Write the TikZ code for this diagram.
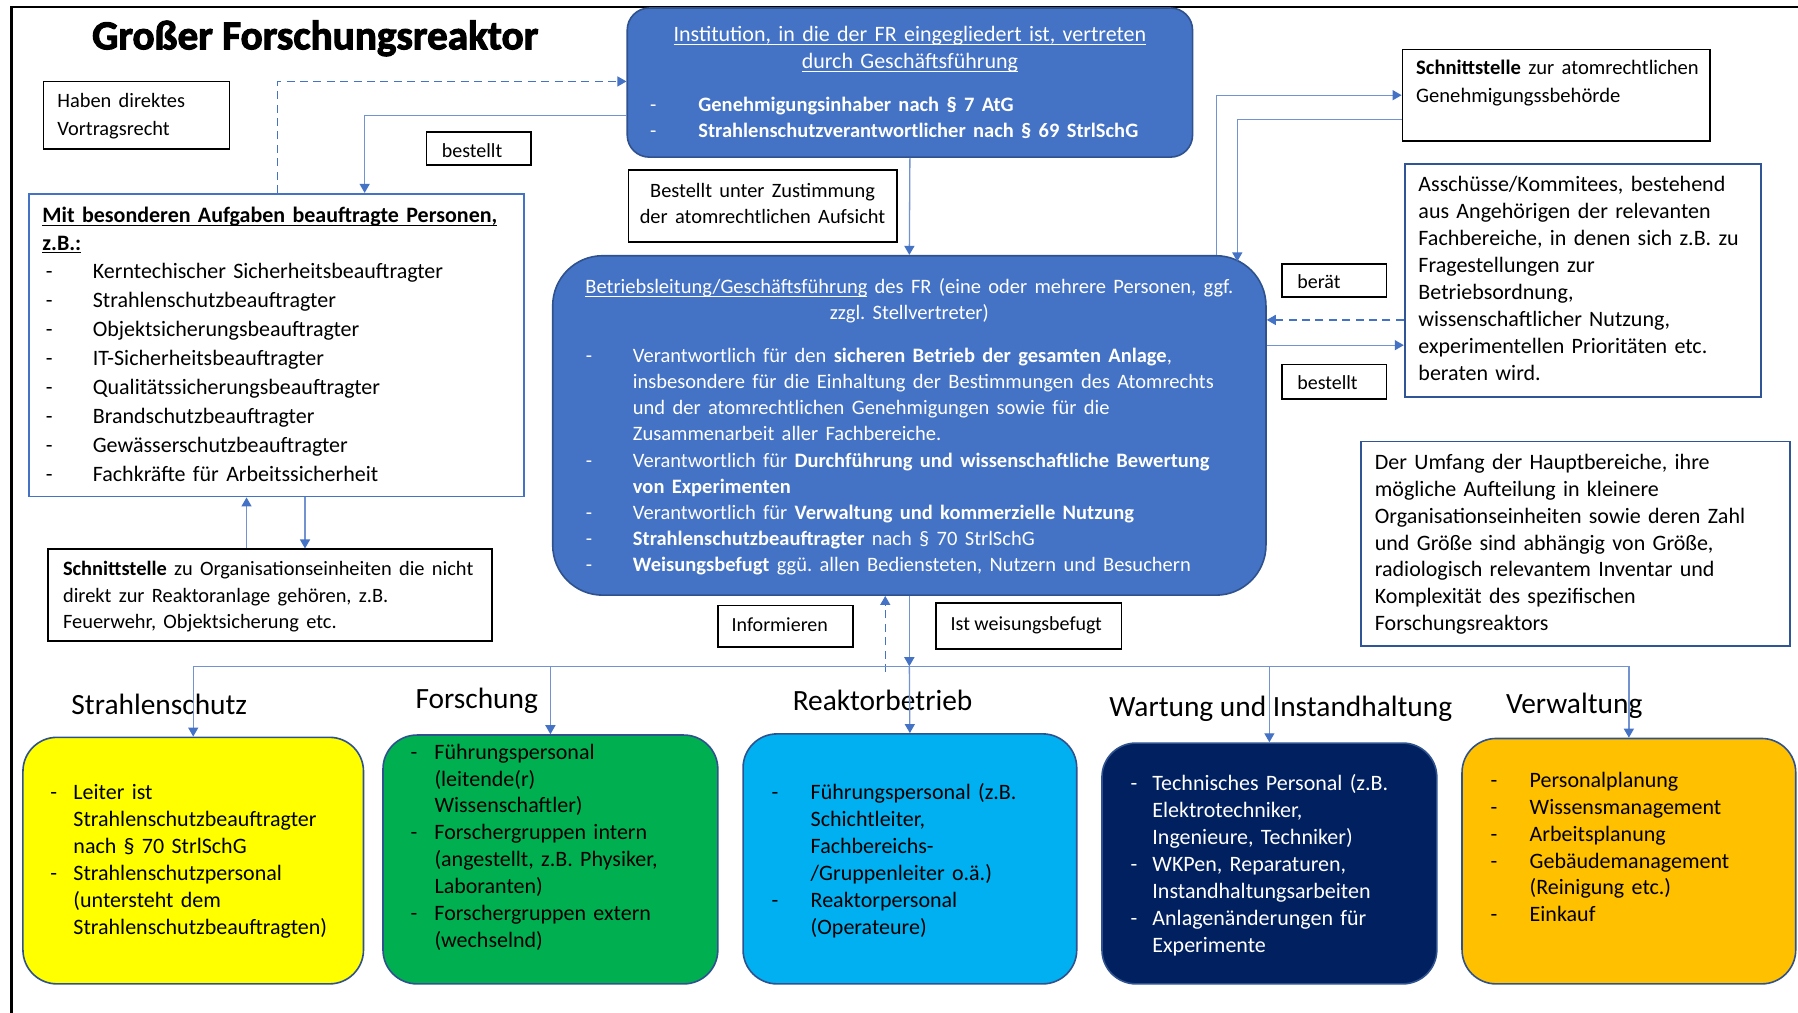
\documentclass[tikz,border=0pt]{standalone}
\usepackage{fontspec}
\setmainfont{Carlito}
\newfontfamily\titlefont{Carlito}[BoldFeatures={FakeBold=2.5}]
\usetikzlibrary{arrows.meta,fit}
\frenchspacing

\definecolor{acc}{HTML}{4472C4}
\definecolor{accd}{HTML}{2F528F}
\definecolor{bdr}{HTML}{2F5597}
\definecolor{lnk}{HTML}{7393D0}
\definecolor{cYel}{HTML}{FFFF00}
\definecolor{cGrn}{HTML}{00B050}
\definecolor{cSky}{HTML}{00B0F0}
\definecolor{cNavy}{HTML}{002060}
\definecolor{cOra}{HTML}{FFC000}

% body size with a given line distance
\newcommand\fs[1]{\fontsize{11}{#1}\selectfont}
\newcommand\fsm[2]{\fontsize{#1}{#2}\selectfont}
% list item: dash, then text with hanging indent
\newcommand\li[2]{\hangindent=#1\hangafter=1\noindent\makebox[#1][l]{-}#2\par}
% underline at a fixed depth below the baseline
\newcommand\uln[1]{\setbox0\hbox{#1}\leavevmode\rlap{\rule[-1.7pt]{\wd0}{0.5pt}}\box0\relax}

\tikzset{
  box/.style={draw=black,line width=0.8pt,inner sep=0pt},
  bbox/.style={draw=bdr,line width=0.9pt,inner sep=0pt},
  rbox/.style={draw=accd,line width=0.8pt,inner sep=0pt},
  txt/.style={anchor=base west,inner sep=0pt,outer sep=0pt,align=left,text width=#1,
    font=\fontsize{11}{13.5}\selectfont},
  txt/.default=330pt,
  ctxt/.style={anchor=base,inner sep=0pt,outer sep=0pt,align=center,text width=#1,
    font=\fontsize{11}{13.5}\selectfont},
  stxt/.style={anchor=base west,inner sep=0pt,font=\fontsize{10}{12}\selectfont},
  lbl/.style={anchor=base west,inner sep=0pt,font=\fontsize{14.7}{17}\selectfont},
  arr/.style={draw=lnk,line width=0.65pt,-{Triangle[length=4.5pt,width=5pt,color=acc]}},
  darr/.style={arr,draw=acc,dash pattern=on 4pt off 2.7pt},
}

\begin{document}
\begin{tikzpicture}[x=0.5734pt,y=-0.5734pt]
\fill[white] (0,0) rectangle (1568,883);
\useasboundingbox (0,0) rectangle (1568,883);

% outer frame (left and top edge)
\draw[line width=1.1pt] (10,883) -- (10,6) -- (1568,6);

% title
\node[anchor=base west,inner sep=0pt] (title) at (80,43)
  {\titlefont\bfseries\fontsize{20.6}{24}\selectfont Großer Forschungsreaktor};

% --- left column ---------------------------------------------------
\node[box,fit={(38,71) (200,130)}] (haben) {};
\node[txt] (habenT) at (50,94) {\fsm{10.2}{13.8}Haben direktes\\Vortragsrecht\par};

\node[box,fit={(372,115) (463,144)}] (best1) {};
\node[stxt] (best1T) at (385,137) {bestellt};

\node[bbox,draw=acc,fit={(25,169) (457,433)}] (mit) {};
\node[txt] (mitH) at (37,194)
  {\fs{13.8}\textbf{\uln{Mit besonderen Aufgaben beauftragte Personen,}}\\\textbf{\uln{z.B.:}}\par};
\node[txt] (mitL) at (40,243) {\fs{14.5}%
  \li{23.5pt}{Kerntechischer Sicherheitsbeauftragter}%
  \li{23.5pt}{Strahlenschutzbeauftragter}%
  \li{23.5pt}{Objektsicherungsbeauftragter}%
  \li{23.5pt}{IT-Sicherheitsbeauftragter}%
  \li{23.5pt}{Qualitätssicherungsbeauftragter}%
  \li{23.5pt}{Brandschutzbeauftragter}%
  \li{23.5pt}{Gewässerschutzbeauftragter}%
  \li{23.5pt}{Fachkräfte für Arbeitssicherheit}};

\node[box,fit={(42,479) (429,559)}] (sl) {};
\node[txt] (slT) at (55,502) {\fsm{10.2}{13.2}\textbf{Schnittstelle} zu Organisationseinheiten die nicht\\
  direkt zur Reaktoranlage gehören, z.B.\\Feuerwehr, Objektsicherung etc.\par};

% --- centre column -------------------------------------------------
\node[rbox,fill=acc,rounded corners=11pt,fit={(547,7) (1040,137)}] (inst) {};
\node[ctxt=282pt,text=white] (instH) at (793.5,36)
  {\fs{13.8}\uln{Institution, in die der FR eingegliedert ist, vertreten}\\\uln{durch Geschäftsführung}\par};
\node[txt,text=white] (instL) at (567,97) {\fsm{10.25}{13.2}%
  \li{24.1pt}{\textbf{Genehmigungsinhaber nach § 7 AtG}}%
  \li{24.1pt}{\textbf{Strahlenschutzverantwortlicher nach § 69 StrlSchG}}};

\node[box,fit={(548,148) (782,211)}] (bz) {};
\node[ctxt=134pt] (bzT) at (665,172) {\fsm{10.2}{13.2}Bestellt unter Zustimmung\\der atomrechtlichen Aufsicht\par};

\node[rbox,fill=acc,rounded corners=25pt,fit={(482,223) (1104,519)}] (bl) {};
\node[ctxt=350pt,text=white] (blH) at (793,256)
  {\fsm{10.25}{13.2}\uln{Betriebsleitung/Geschäftsführung} des FR (eine oder mehrere Personen, ggf.\\zzgl. Stellvertreter)\par};
\node[txt=400pt,text=white] (blL) at (511,316) {\fsm{10.25}{13.1}%
  \li{23.5pt}{Verantwortlich für den \textbf{sicheren Betrieb der gesamten Anlage},\newline
    insbesondere für die Einhaltung der Bestimmungen des Atomrechts\newline
    und der atomrechtlichen Genehmigungen sowie für die\newline
    Zusammenarbeit aller Fachbereiche.}%
  \li{23.5pt}{Verantwortlich für \textbf{Durchführung und wissenschaftliche Bewertung}\newline
    \textbf{von Experimenten}}%
  \li{23.5pt}{Verantwortlich für \textbf{Verwaltung und kommerzielle Nutzung}}%
  \li{23.5pt}{\textbf{Strahlenschutzbeauftragter} nach § 70 StrlSchG}%
  \li{23.5pt}{\textbf{Weisungsbefugt} ggü. allen Bediensteten, Nutzern und Besuchern}};

\node[box,fit={(626,528) (744,564)}] (inf) {};
\node[stxt,anchor=base] (infT) at (680,551) {Informieren};
\node[box,fit={(816,526) (978,566)}] (iwb) {};
\node[stxt,anchor=base] (iwbT) at (895,550) {Ist weisungsbefugt};

% --- right column --------------------------------------------------
\node[box,fit={(1223,43) (1491,123)}] (sr) {};
\node[txt] (srT) at (1235,65) {\fsm{10.3}{13.8}\textbf{Schnittstelle} zur atomrechtlichen\\Genehmigungssbehörde\par};

\node[bbox,fit={(1225,143) (1536,346)}] (aus) {};
\node[txt] (ausT) at (1237,167) {\fs{13.5}Asschüsse/Kommitees, bestehend\\
  aus Angehörigen der relevanten\\Fachbereiche, in denen sich z.B. zu\\Fragestellungen zur\\
  Betriebsordnung,\\wissenschaftlicher Nutzung,\\experimentellen Prioritäten etc.\\beraten wird.\par};

\node[box,fit={(1118,230) (1209,259)}] (ber) {};
\node[stxt] (berT) at (1131,252) {berät};
\node[box,fit={(1118,318) (1209,348)}] (best2) {};
\node[stxt] (best2T) at (1131,340) {bestellt};

\node[bbox,fit={(1187,385) (1561,563)}] (umf) {};
\node[txt] (umfT) at (1199,409) {\fs{13.5}Der Umfang der Hauptbereiche, ihre\\
  mögliche Aufteilung in kleinere\\Organisationseinheiten sowie deren Zahl\\
  und Größe sind abhängig von Größe,\\radiologisch relevantem Inventar und\\
  Komplexität des spezifischen\\Forschungsreaktors\par};

% --- departments ---------------------------------------------------
\node[lbl] (lSS) at (62,623) {Strahlenschutz};
\node[lbl] (lFO) at (362,618) {Forschung};
\node[lbl] (lRB) at (691,620) {Reaktorbetrieb};
\node[lbl] (lWI) at (967,625) {Wartung und Instandhaltung};
\node[lbl] (lVW) at (1313,622) {Verwaltung};

\node[rbox,fill=cYel,rounded corners=17pt,fit={(20,643) (317,858)}] (ss) {};
\node[rbox,fill=cGrn,rounded corners=17pt,fit={(334,641) (626,858)}] (fo) {};
\node[rbox,fill=cSky,rounded corners=17pt,fit={(648,640) (939,858)}] (rb) {};
\node[rbox,fill=cNavy,rounded corners=17pt,fit={(961,648) (1253,858)}] (wi) {};
\node[rbox,fill=cOra,rounded corners=17pt,fit={(1275,644) (1566,858)}] (vw) {};

\node[txt] (ssT) at (44,697) {\fs{13.5}%
  \li{11.5pt}{Leiter ist\newline Strahlenschutzbeauftragter\newline nach § 70 StrlSchG}%
  \li{11.5pt}{Strahlenschutzpersonal\newline (untersteht dem\newline Strahlenschutzbeauftragten)}};
\node[txt] (foT) at (358,662) {\fs{13.45}%
  \li{12pt}{Führungspersonal\newline (leitende(r)\newline Wissenschaftler)}%
  \li{12pt}{Forschergruppen intern\newline (angestellt, z.B. Physiker,\newline Laboranten)}%
  \li{12pt}{Forschergruppen extern\newline (wechselnd)}};
\node[txt] (rbT) at (673,697) {\fs{13.5}%
  \li{19.5pt}{Führungspersonal (z.B.\newline Schichtleiter,\newline Fachbereichs-\newline /Gruppenleiter o.ä.)}%
  \li{19.5pt}{Reaktorpersonal\newline (Operateure)}};
\node[txt,text=white] (wiT) at (986,689) {\fs{13.5}%
  \li{10.9pt}{Technisches Personal (z.B.\newline Elektrotechniker,\newline Ingenieure, Techniker)}%
  \li{10.9pt}{WKPen, Reparaturen,\newline Instandhaltungsarbeiten}%
  \li{10.9pt}{Anlagenänderungen für\newline Experimente}};
\node[txt] (vwT) at (1300,687) {\fs{13.4}%
  \li{19.5pt}{Personalplanung}%
  \li{19.5pt}{Wissensmanagement}%
  \li{19.5pt}{Arbeitsplanung}%
  \li{19.5pt}{Gebäudemanagement\newline (Reinigung etc.)}%
  \li{19.5pt}{Einkauf}};

% --- connectors ----------------------------------------------------
\coordinate (xVor) at (242,0);
\coordinate (yVor) at (0,71);
\coordinate (xBst) at (318,0);
\coordinate (yBst) at (0,101);
\draw[darr] (mit.north -| xVor) |- (inst.west |- yVor);
\draw[arr] (inst.west |- yBst) -| (mit.north -| xBst);

\draw[arr] (inst.south) -- (bl.north);

\coordinate (xUp) at (215,0);
\coordinate (xDn) at (266,0);
\draw[arr] (sl.north -| xUp) -- (mit.south -| xUp);
\draw[arr] (mit.south -| xDn) -- (sl.north -| xDn);

\coordinate (xSrU) at (1061,0);
\coordinate (ySrU) at (0,83);
\coordinate (ySrD) at (0,104);
\coordinate (blTR) at (1079,228);
\draw[arr] (bl.north -| xSrU) |- (sr.west |- ySrU);
\draw[arr] (sr.west |- ySrD) -| (blTR);

\coordinate (yBer) at (0,279);
\coordinate (yBes) at (0,301);
\draw[darr] (aus.west |- yBer) -- (bl.east |- yBer);
\draw[arr] (bl.east |- yBes) -- (aus.west |- yBes);

\coordinate (yHub) at (0,581);
\coordinate (hub) at (bl.south |- yHub);
\coordinate (infoFoot) at (772,586);
\draw[darr] (infoFoot) -- (bl.south -| infoFoot);
\draw[arr] (bl.south) -- (hub);
\draw[arr] (hub) -- (rb.north);
\draw[arr] (hub) -| (ss.north);
\draw[arr] (hub) -| (fo.north);
\draw[arr] (hub) -| (wi.north);
\draw[arr] (hub) -| (vw.north);
\end{tikzpicture}
\end{document}
